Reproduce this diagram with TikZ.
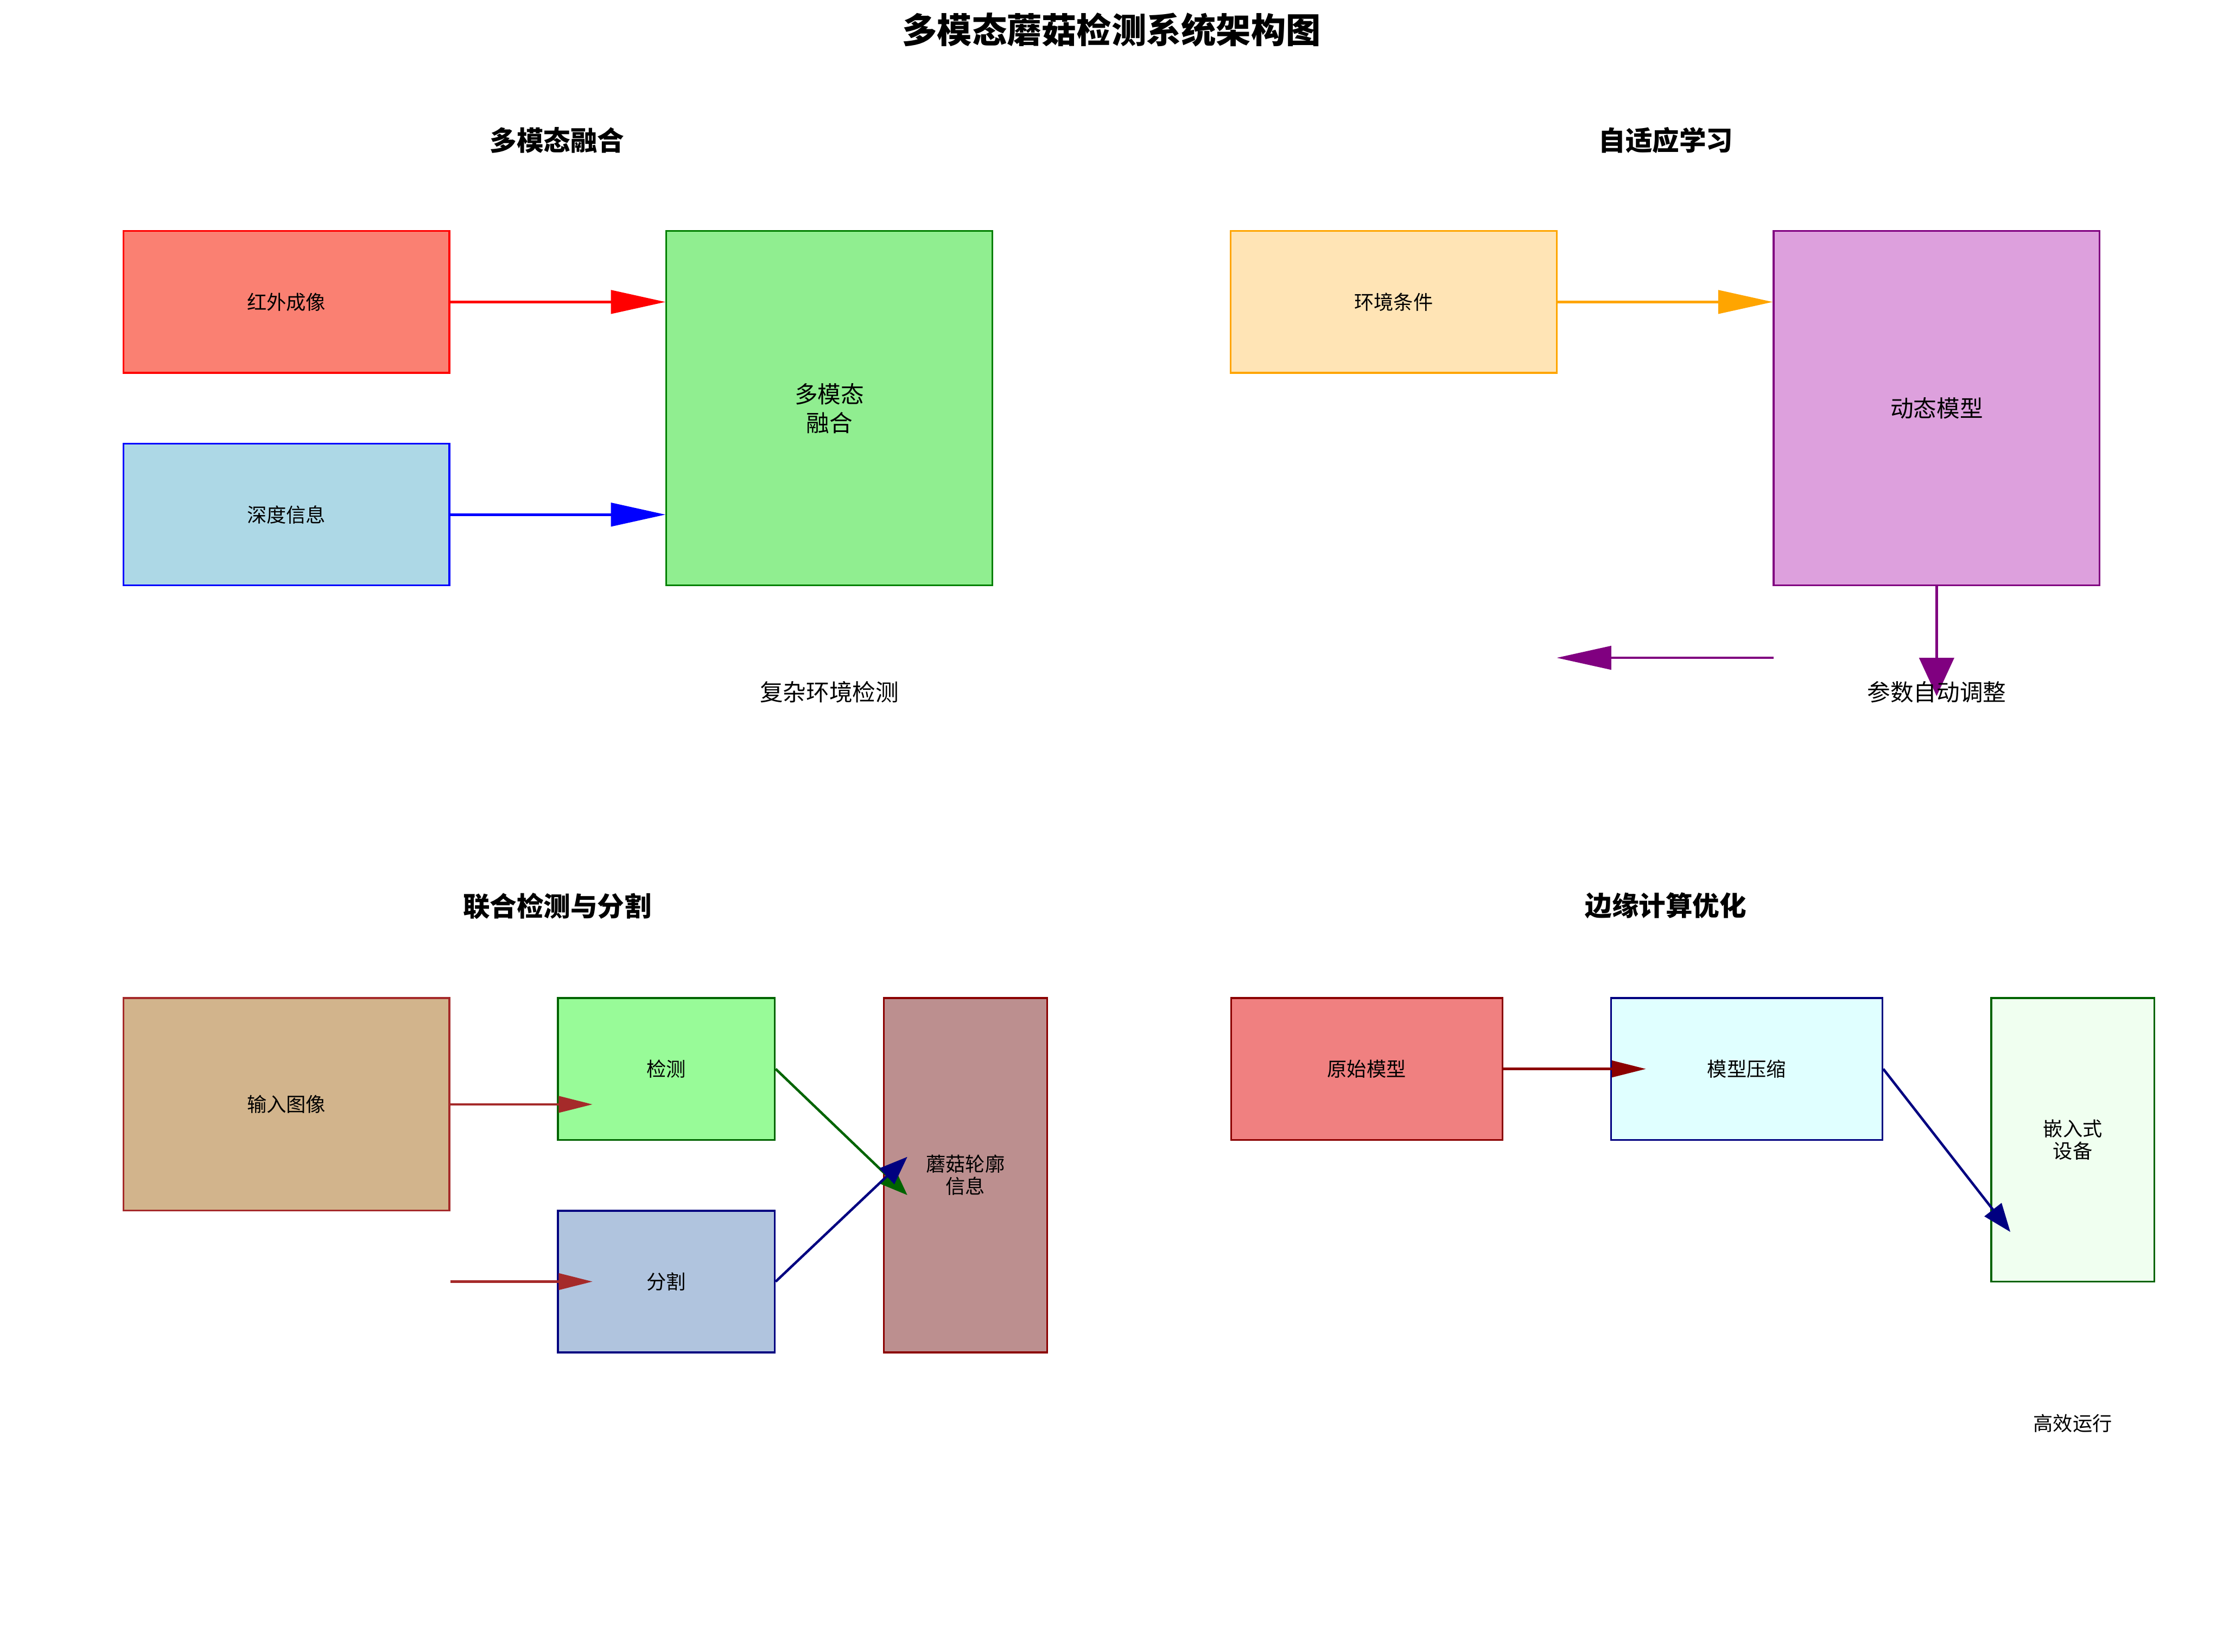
\documentclass[tikz,border=0pt]{standalone}
\usepackage{fontspec}
\setmainfont{Noto Sans CJK SC}
\usepackage{tikz}
\usepackage{xcolor}
\usetikzlibrary{arrows.meta}
\definecolor{salmonbg}{HTML}{FA8072}
\definecolor{irline}{HTML}{FF0000}
\definecolor{depthbg}{HTML}{ADD8E6}
\definecolor{depthline}{HTML}{0000FF}
\definecolor{fusebg}{HTML}{90EE90}
\definecolor{fuseline}{HTML}{008000}
\definecolor{envbg}{HTML}{FFE4B5}
\definecolor{envline}{HTML}{FFA500}
\definecolor{dynbg}{HTML}{DDA0DD}
\definecolor{dynline}{HTML}{800080}
\definecolor{inpbg}{HTML}{D2B48C}
\definecolor{inpline}{HTML}{A52A2A}
\definecolor{detbg}{HTML}{98FB98}
\definecolor{darkgrn}{HTML}{006400}
\definecolor{segbg}{HTML}{B0C4DE}
\definecolor{navyline}{HTML}{000080}
\definecolor{contourbg}{HTML}{BC8F8F}
\definecolor{darkredline}{HTML}{8B0000}
\definecolor{origbg}{HTML}{F08080}
\definecolor{compbg}{HTML}{E0FFFF}
\definecolor{embbg}{HTML}{F0FFF0}
\tikzset{
  maintitle/.style={font=\bfseries\fontsize{14}{17}\selectfont, inner sep=0pt},
  paneltitle/.style={font=\bfseries\fontsize{10.8}{13}\selectfont, inner sep=0pt},
  block/.style={
    rectangle, line width=0.7pt, inner sep=0pt, align=center,
    font=\fontsize{7.9}{8.9}\selectfont
  },
  bigblock/.style={block, font=\fontsize{9.3}{11.6}\selectfont},
  plainnote/.style={inner sep=0pt, align=center},
  bignote/.style={plainnote, font=\fontsize{9.3}{11.6}\selectfont},
  smallnote/.style={plainnote, font=\fontsize{7.9}{8.9}\selectfont},
  flow/.style={line width=1pt},
  bighead/.style={flow, -{Triangle[length=0.77cm,width=0.33cm]}},
  downhead/.style={flow, -{Triangle[length=0.54cm,width=0.49cm]}},
  smallhead/.style={flow, -{Triangle[length=0.48cm,width=0.23cm]}},
  slanthead/.style={flow, -{Triangle[length=0.4cm,width=0.3cm]}}
}

\begin{document}
\begin{tikzpicture}[x=0.02cm,y=-0.02cm,>=Latex]
  \useasboundingbox (0,0) rectangle (1568,1165);
  \node[maintitle] (title) at (784,21) {多模态蘑菇检测系统架构图};
  \node[paneltitle] (fusetitle) at (393,99) {多模态融合};
  \node[paneltitle] (adapttitle) at (1175,99) {自适应学习};
  \node[paneltitle] (jointtitle) at (393,639) {联合检测与分割};
  \node[paneltitle] (edgetitle) at (1175,639) {边缘计算优化};

  \node[block,fill=salmonbg,draw=irline,minimum width=4.6cm,minimum height=2cm] (ir) at (202,213) {红外成像};
  \node[block,fill=depthbg,draw=depthline,minimum width=4.6cm,minimum height=2cm] (depth) at (202,363) {深度信息};
  \node[bigblock,fill=fusebg,draw=fuseline,minimum width=4.6cm,minimum height=5cm] (fuse) at (585,288) {多模态\\融合};
  \draw[bighead,irline] (ir.east) -- (fuse.west |- ir.east);
  \draw[bighead,depthline] (depth.east) -- (fuse.west |- depth.east);
  \node[bignote] (complex) at (585,488) {复杂环境检测};

  \node[block,fill=envbg,draw=envline,minimum width=4.6cm,minimum height=2cm] (env) at (983,213) {环境条件};
  \node[bigblock,fill=dynbg,draw=dynline,minimum width=4.6cm,minimum height=5cm] (dyn) at (1366,288) {动态模型};
  \draw[bighead,envline] (env.east) -- (dyn.west |- env.east);
  \coordinate (adjtip) at (1366,491);
  \coordinate (fbfrom) at (1251,464);
  \coordinate (fbto) at (1098,464);
  \draw[downhead,dynline] (dyn.south) -- (adjtip);
  \draw[bighead,dynline] (fbfrom) -- (fbto);
  \node[bignote] (adjust) at (1366,488) {参数自动调整};

  \node[block,fill=inpbg,draw=inpline,minimum width=4.6cm,minimum height=3cm] (inp) at (202,779) {输入图像};
  \node[block,fill=detbg,draw=darkgrn,minimum width=3.06cm,minimum height=2cm] (det) at (470,754) {检测};
  \node[block,fill=segbg,draw=navyline,minimum width=3.06cm,minimum height=2cm] (seg) at (470,904) {分割};
  \node[block,fill=contourbg,draw=darkredline,minimum width=2.3cm,minimum height=5cm] (contour) at (681,829) {蘑菇轮廓\\信息};
  \coordinate (detin) at (418,779);
  \coordinate (segin) at (418,904);
  \coordinate (fromdet) at (640,843);
  \coordinate (fromseg) at (640,816);
  \draw[smallhead,inpline] (inp.east) -- (detin);
  \draw[smallhead,inpline] (inp.east |- seg.west) -- (segin);
  \draw[slanthead,darkgrn] (det.east) -- (fromdet);
  \draw[slanthead,navyline] (seg.east) -- (fromseg);

  \node[block,fill=origbg,draw=darkredline,minimum width=3.83cm,minimum height=2cm] (orig) at (964,754) {原始模型};
  \node[block,fill=compbg,draw=navyline,minimum width=3.83cm,minimum height=2cm] (comp) at (1232,754) {模型压缩};
  \node[block,fill=embbg,draw=darkgrn,minimum width=2.3cm,minimum height=4cm] (emb) at (1462,804) {嵌入式\\设备};
  \coordinate (compin) at (1161,754);
  \coordinate (embin) at (1418,869);
  \draw[smallhead,darkredline] (orig.east) -- (compin);
  \draw[slanthead,navyline] (comp.east) -- (embin);
  \node[smallnote] (runs) at (1462,1004) {高效运行};
\end{tikzpicture}
\end{document}
